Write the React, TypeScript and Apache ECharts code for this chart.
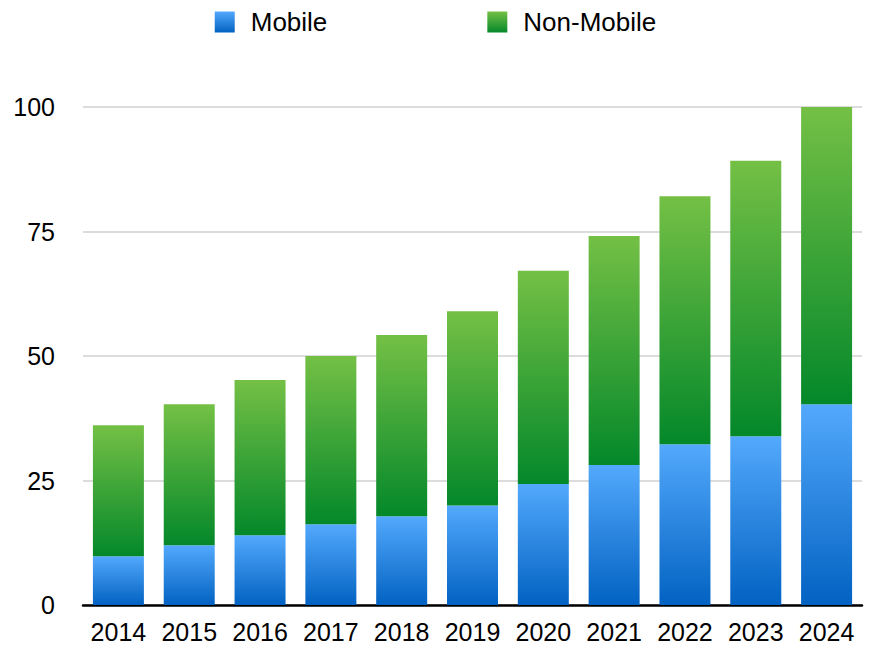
import React, { useEffect, useRef } from "react";
import * as echarts from "echarts";

const categories = ["2014", "2015", "2016", "2017", "2018", "2019", "2020", "2021", "2022", "2023", "2024"];
const mobile = [9.8, 12, 14, 16.2, 17.8, 20, 24.3, 28.1, 32.3, 33.9, 40.3];
const nonMobile = [26.3, 28.3, 31.2, 33.8, 36.4, 39, 42.8, 46, 49.8, 55.3, 59.7];
const yTicks = [0, 25, 50, 75, 100];

const FONT = "'Liberation Sans', Arial, Helvetica, sans-serif";

export default function App() {
  const ref = useRef<HTMLDivElement>(null);
  useEffect(() => {
    if (!ref.current) return;
    const chart = echarts.init(ref.current, null, { renderer: "svg" });
    const blue = new echarts.graphic.LinearGradient(0, 0, 0, 1, [
      { offset: 0, color: "#53a9fc" },
      { offset: 1, color: "#0262c2" },
    ]);
    const green = new echarts.graphic.LinearGradient(0, 0, 0, 1, [
      { offset: 0, color: "#74c045" },
      { offset: 1, color: "#04882a" },
    ]);
    chart.setOption({
      animation: false,
      textStyle: { fontFamily: FONT },
      legend: {
        top: 4,
        left: "center",
        itemWidth: 20,
        itemHeight: 21,
        itemGap: 160,
        icon: "rect",
        textStyle: { fontSize: 26, color: "#000", fontFamily: FONT, padding: [0, 0, 0, 11] },
        data: [
          { name: "Mobile", itemStyle: { color: blue } },
          { name: "Non-Mobile", itemStyle: { color: green } },
        ],
      },
      grid: { left: 83, right: 9, top: 107, bottom: 42, containLabel: false },
      xAxis: {
        type: "category",
        data: categories,
        axisLine: { show: true, lineStyle: { color: "#000", width: 2.5 } },
        axisTick: { show: false },
        axisLabel: { interval: 0, fontSize: 25, color: "#000", margin: 14, fontFamily: FONT },
      },
      yAxis: {
        type: "value",
        min: yTicks[0],
        max: yTicks[yTicks.length - 1],
        interval: 25,
        axisLine: { show: false },
        axisTick: { show: false },
        axisLabel: { fontSize: 25, color: "#000", margin: 28, fontFamily: FONT },
        splitLine: { lineStyle: { color: "#d0d0d0", width: 1.5 } },
      },
      series: [
        {
          name: "Mobile",
          type: "bar",
          stack: "total",
          data: mobile,
          barWidth: 51,
          itemStyle: { color: blue },
        },
        {
          name: "Non-Mobile",
          type: "bar",
          stack: "total",
          data: nonMobile,
          barWidth: 51,
          itemStyle: { color: green },
        },
      ],
    });
    return () => chart.dispose();
  }, []);
  return <div ref={ref} style={{ width: 871, height: 647, position: "absolute", left: 0, top: 0 }} />;
}
